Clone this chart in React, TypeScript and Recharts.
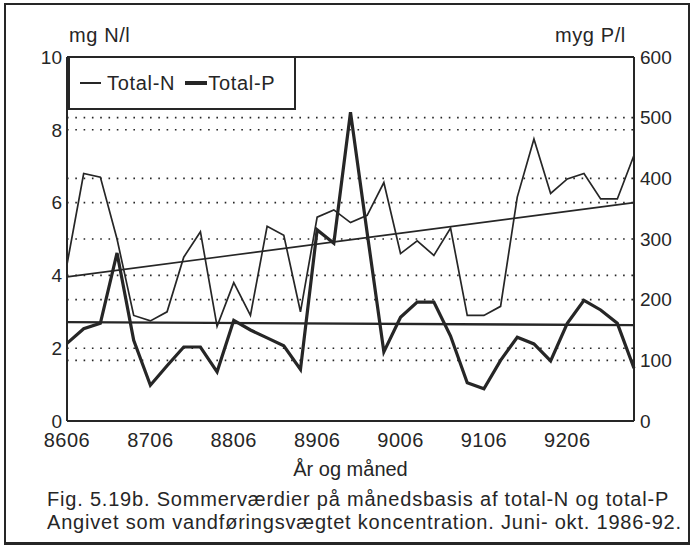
import React from 'react';
import { ComposedChart, Line, XAxis, YAxis, CartesianGrid, ReferenceLine, Legend, Label } from 'recharts';

const months = [
  '8606', '8607', '8608', '8609', '8610',
  '8706', '8707', '8708', '8709', '8710',
  '8806', '8807', '8808', '8809', '8810',
  '8906', '8907', '8908', '8909', '8910',
  '9006', '9007', '9008', '9009', '9010',
  '9106', '9107', '9108', '9109', '9110',
  '9206', '9207', '9208', '9209', '9210',
];
const xTicks = ['8606', '8706', '8806', '8906', '9006', '9106', '9206'];

// mg N/l (left axis)
const totalN = [
  4.3, 6.8, 6.7, 5.0, 2.9,
  2.75, 3.0, 4.5, 5.2, 2.6,
  3.8, 2.9, 5.35, 5.1, 3.0,
  5.6, 5.8, 5.45, 5.65, 6.55,
  4.6, 4.95, 4.55, 5.3, 2.9,
  2.9, 3.15, 6.15, 7.75, 6.25,
  6.65, 6.8, 6.1, 6.1, 7.3,
];
// myg P/l (right axis)
const totalP = [
  128, 152, 161, 277, 133,
  59, 91, 122, 122, 81,
  166, 150, 137, 124, 85,
  315, 293, 509, 310, 114,
  171, 196, 196, 140, 63,
  53, 100, 138, 127, 99,
  161, 199, 183, 161, 87,
];

const leftTicks = [0, 2, 4, 6, 8, 10];
const rightTicks = [0, 100, 200, 300, 400, 500, 600];

// linear trend lines (start, end)
const trendN = [3.96, 6.0];
const trendP = [163, 158];

const data = months.map((m, i) => ({ month: m, n: totalN[i], p: totalP[i] }));

const FONT = '"Liberation Sans", Arial, Helvetica, sans-serif';
const INK = '#262626';

const LegendBox = () => (
  <div
    style={{
      boxSizing: 'border-box',
      width: 228,
      height: 54,
      border: `2px solid ${INK}`,
      background: '#fff',
      display: 'flex',
      alignItems: 'center',
      paddingLeft: 10,
      fontFamily: FONT,
      fontSize: 20,
      letterSpacing: 0.7,
      color: INK,
      whiteSpace: 'nowrap',
    }}
  >
    <span style={{ display: 'inline-block', width: 21, height: 0, borderTop: `2px solid ${INK}`, marginRight: 6 }} />
    <span style={{ marginRight: 10 }}>Total-N</span>
    <span style={{ display: 'inline-block', width: 22, height: 0, borderTop: `4px solid ${INK}`, marginRight: 1 }} />
    <span>Total-P</span>
  </div>
);

export default function App() {
  return (
    <div style={{ position: 'absolute', left: 0, top: 0, width: 691, height: 551, background: '#fff', fontFamily: FONT }}>
      <div
        style={{
          position: 'absolute',
          left: 4,
          top: 3,
          width: 682,
          height: 537,
          border: `2px solid ${INK}`,
          borderBottomWidth: 3,
        }}
      />
      <div style={{ position: 'absolute', left: 69, top: 24, fontSize: 20, letterSpacing: 0.6, color: INK }}>mg N/l</div>
      <div style={{ position: 'absolute', left: 555, top: 24, fontSize: 20, letterSpacing: 0.6, color: INK }}>myg P/l</div>
      <div style={{ position: 'absolute', left: 0, top: 0 }}>
        <ComposedChart
          width={691}
          height={551}
          data={data}
          margin={{ top: 57, right: 0, bottom: 100, left: 0 }}
          style={{ fontFamily: FONT }}
        >
          <CartesianGrid
            yAxisId="left"
            vertical={false}
            stroke={INK}
            strokeWidth={1.6}
            strokeDasharray="1.6 6.7"
          />
          <CartesianGrid
            yAxisId="right"
            vertical={false}
            stroke={INK}
            strokeWidth={1.6}
            strokeDasharray="1.6 6.7"
          />
          <XAxis
            dataKey="month"
            ticks={xTicks}
            interval={0}
            tickLine={false}
            tickSize={0}
            tickMargin={12}
            axisLine={{ stroke: INK, strokeWidth: 2 }}
            tick={{ fill: INK, fontSize: 20, letterSpacing: 0.5 }}
            height={30}
          >
            <Label value="År og måned" position="bottom" offset={11} style={{ fill: INK, fontSize: 20, fontFamily: FONT }} />
          </XAxis>
          <YAxis
            yAxisId="left"
            orientation="left"
            width={67}
            domain={[0, 10]}
            ticks={leftTicks}
            interval={0}
            tickLine={false}
            tickSize={0}
            tickMargin={5}
            axisLine={{ stroke: INK, strokeWidth: 2 }}
            tick={{ fill: INK, fontSize: 19 }}
          />
          <YAxis
            yAxisId="right"
            orientation="right"
            width={57}
            domain={[0, 600]}
            ticks={rightTicks}
            interval={0}
            tickLine={false}
            tickSize={0}
            tickMargin={6}
            axisLine={{ stroke: INK, strokeWidth: 2 }}
            tick={{ fill: INK, fontSize: 19 }}
          />
          <ReferenceLine yAxisId="left" y={10} stroke={INK} strokeWidth={2} />
          <ReferenceLine
            yAxisId="left"
            segment={[
              { x: months[0], y: trendN[0] },
              { x: months[months.length - 1], y: trendN[1] },
            ]}
            stroke={INK}
            strokeWidth={1.6}
          />
          <ReferenceLine
            yAxisId="right"
            segment={[
              { x: months[0], y: trendP[0] },
              { x: months[months.length - 1], y: trendP[1] },
            ]}
            stroke={INK}
            strokeWidth={2.4}
          />
          <Line
            yAxisId="left"
            type="linear"
            dataKey="n"
            name="Total-N"
            stroke={INK}
            strokeWidth={1.7}
            dot={false}
            activeDot={false}
            isAnimationActive={false}
          />
          <Line
            yAxisId="right"
            type="linear"
            dataKey="p"
            name="Total-P"
            stroke={INK}
            strokeWidth={3.2}
            dot={false}
            activeDot={false}
            isAnimationActive={false}
          />
          <Legend
            layout="horizontal"
            verticalAlign="middle"
            align="center"
            wrapperStyle={{ position: 'absolute', left: 68, top: 56, width: 228, height: 54 }}
            content={() => <LegendBox />}
          />
        </ComposedChart>
      </div>
      <div style={{ position: 'absolute', left: 47, top: 488, fontSize: 20, letterSpacing: 0.8, color: INK, lineHeight: '23px', whiteSpace: 'nowrap' }}>
        <div>Fig. 5.19b. Sommerværdier på månedsbasis af total-N og total-P</div>
        <div>Angivet som vandføringsvægtet koncentration. Juni- okt. 1986-92.</div>
      </div>
    </div>
  );
}
